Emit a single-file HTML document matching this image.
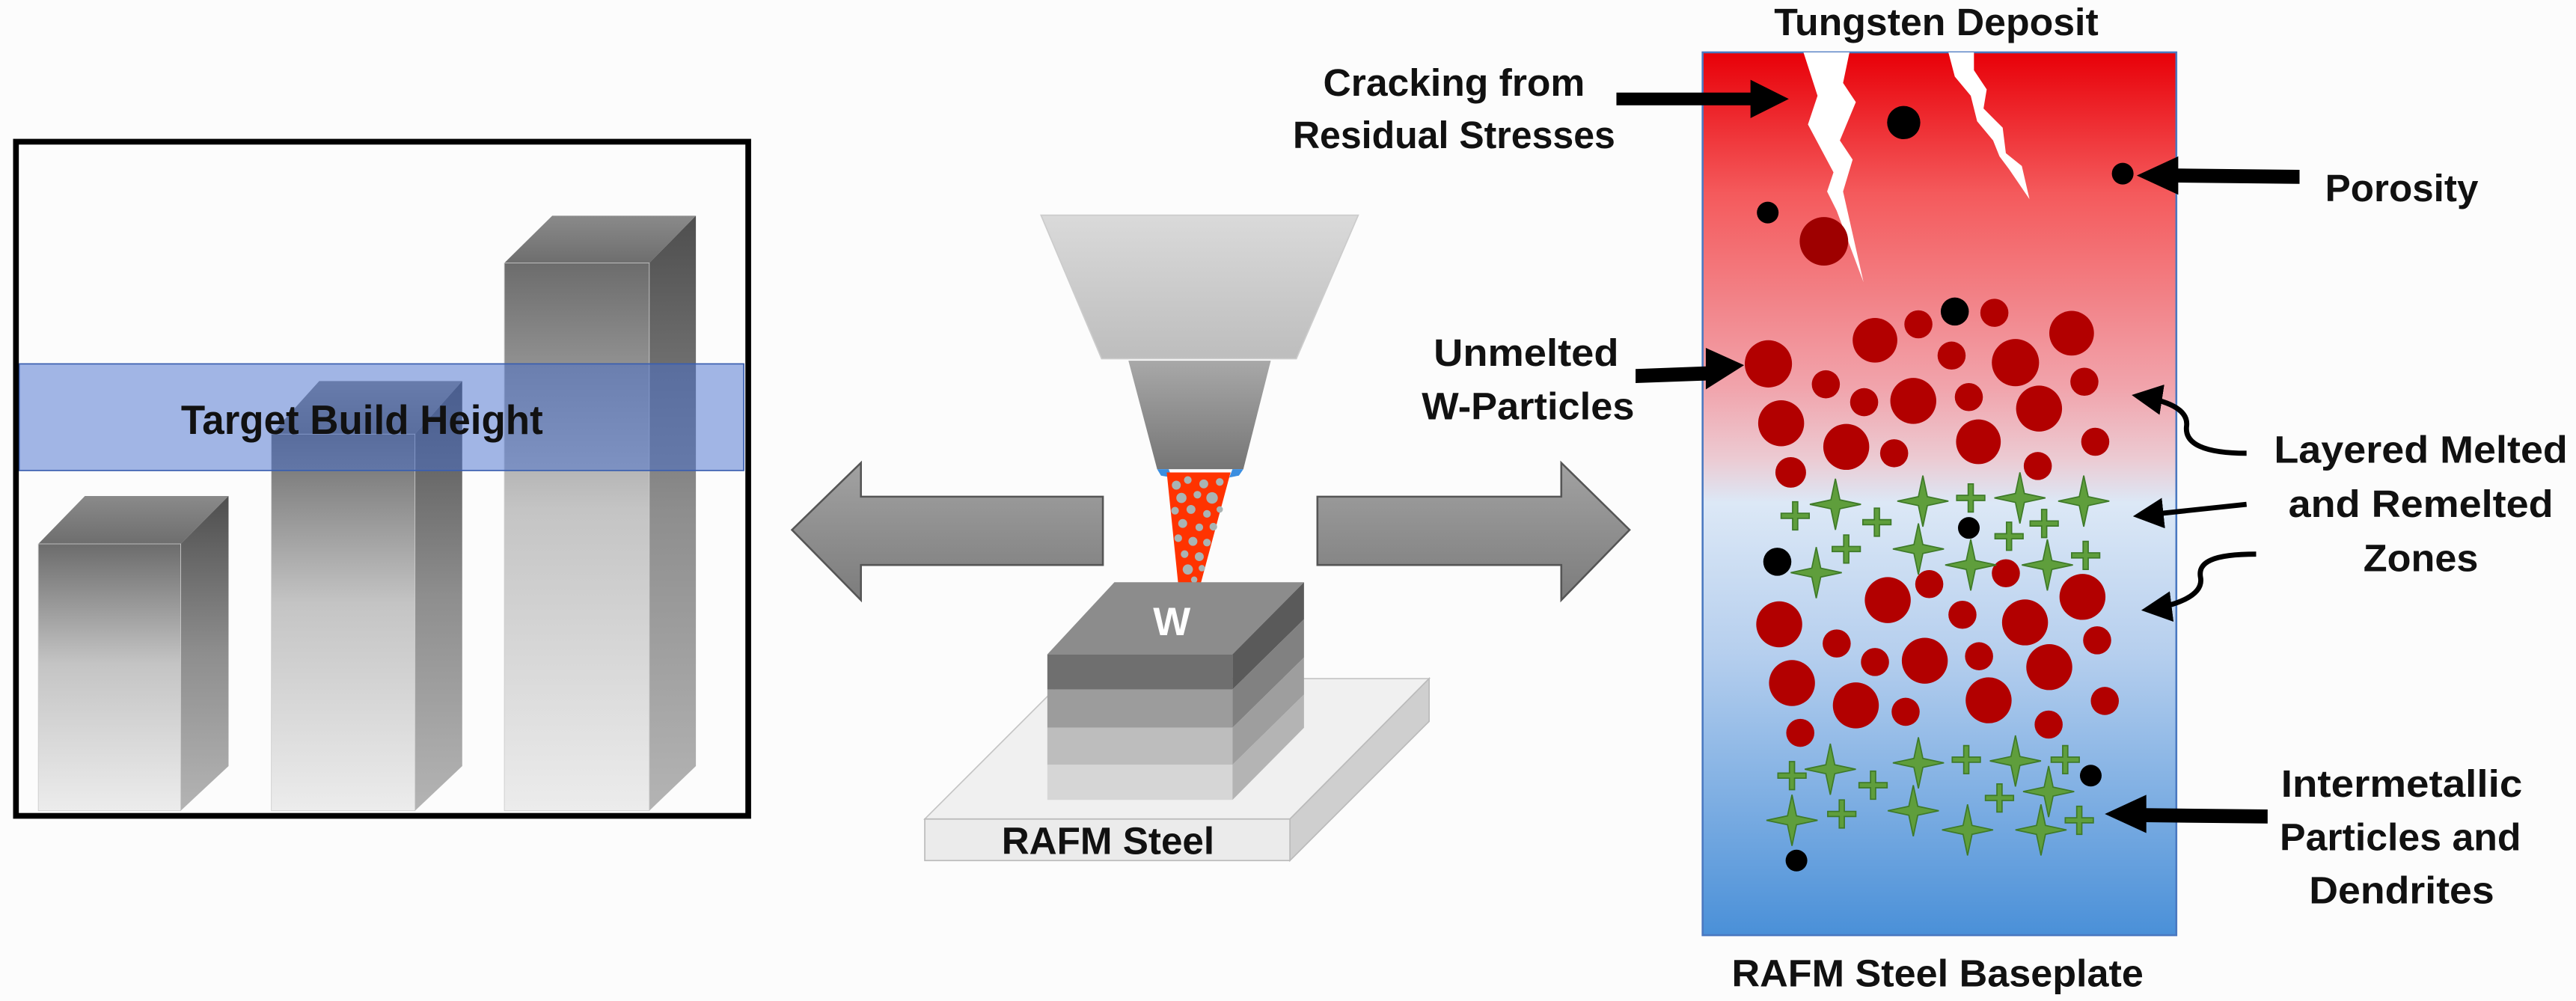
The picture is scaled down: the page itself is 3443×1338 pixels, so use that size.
<!DOCTYPE html>
<html><head><meta charset="utf-8"><style>
html,body{margin:0;padding:0;background:#fcfcfc}
svg{display:block}
text{font-family:"Liberation Sans",sans-serif;font-weight:bold;fill:#111}
</style></head><body>
<svg width="3443" height="1338" viewBox="0 0 3443 1338" xmlns="http://www.w3.org/2000/svg">
<defs>
<linearGradient id="front" x1="0" y1="0" x2="0" y2="1"><stop offset="0" stop-color="#6c6c6c"/><stop offset="0.45" stop-color="#c4c4c4"/><stop offset="1" stop-color="#ececec"/></linearGradient>
<linearGradient id="side" x1="0" y1="0" x2="0" y2="1"><stop offset="0" stop-color="#4e4e4e"/><stop offset="0.5" stop-color="#8e8e8e"/><stop offset="1" stop-color="#b4b4b4"/></linearGradient>
<linearGradient id="topf" x1="0" y1="0" x2="0" y2="1"><stop offset="0" stop-color="#8a8a8a"/><stop offset="1" stop-color="#6e6e6e"/></linearGradient>
<linearGradient id="arr" x1="0" y1="0" x2="0" y2="1"><stop offset="0" stop-color="#a2a2a2"/><stop offset="1" stop-color="#7c7c7c"/></linearGradient>
<linearGradient id="hop" x1="0" y1="0" x2="0" y2="1"><stop offset="0" stop-color="#dadada"/><stop offset="1" stop-color="#bdbdbd"/></linearGradient>
<linearGradient id="noz" x1="0" y1="0" x2="0" y2="1"><stop offset="0" stop-color="#a8a8a8"/><stop offset="1" stop-color="#767676"/></linearGradient>
<linearGradient id="panel" x1="0" y1="0" x2="0" y2="1">
<stop offset="0" stop-color="#e80008"/><stop offset="0.16" stop-color="#f45a5c"/><stop offset="0.38" stop-color="#f1a4ac"/><stop offset="0.46" stop-color="#eccad2"/><stop offset="0.51" stop-color="#dce8f6"/><stop offset="0.68" stop-color="#b6cfee"/><stop offset="1" stop-color="#4a90d8"/></linearGradient>
<marker id="ah" markerWidth="6" markerHeight="6" refX="5" refY="3" orient="auto" markerUnits="strokeWidth"><path d="M0,0 L6,3 L0,6 Z" fill="#000"/></marker>
<g id="st"><path d="M0,-40 L7,-7 L40,0 L7,7 L0,40 L-7,7 L-40,0 L-7,-7 Z" fill="#5f9e3c" stroke="#3e7a28" stroke-width="2"/></g>
<g id="pl"><path d="M-4,-22 H4 V-4 H22 V4 H4 V22 H-4 V4 H-22 V-4 H-4 Z" fill="#5f9e3c" stroke="#3e7a28" stroke-width="2"/></g>
</defs>

<!-- LEFT PANEL (zoom4 coords) -->
<g transform="scale(0.8533)">
<!-- bar1 -->
<polygon points="60,852 283,852 358,777 133,777" fill="url(#topf)"/>
<polygon points="283,852 358,777 358,1200 283,1270" fill="url(#side)"/>
<rect x="60" y="852" width="223" height="418" fill="url(#front)" stroke="#ccc" stroke-width="1"/>
<!-- bar2 -->
<polygon points="425,680 650,680 724,597 500,597" fill="url(#topf)"/>
<polygon points="650,680 724,597 724,1200 650,1270" fill="url(#side)"/>
<rect x="425" y="680" width="225" height="590" fill="url(#front)" stroke="#ccc" stroke-width="1"/>
<!-- bar3 -->
<polygon points="790,412 1017,412 1090,338 865,338" fill="url(#topf)"/>
<polygon points="1017,412 1090,338 1090,1200 1017,1270" fill="url(#side)"/>
<rect x="790" y="412" width="227" height="858" fill="url(#front)" stroke="#ccc" stroke-width="1"/>
<!-- band -->
<rect x="30" y="570" width="1135" height="167" fill="rgba(70,110,205,0.5)" stroke="#3a5fb0" stroke-width="2"/>
<text x="567" y="680" font-size="64" text-anchor="middle" textLength="567" lengthAdjust="spacingAndGlyphs">Target Build Height</text>
<rect x="25" y="222" width="1147" height="1056" fill="none" stroke="#000" stroke-width="9"/>
</g>

<!-- CENTER (zoom6 coords) -->
<g transform="translate(1050,0) scale(0.8533)">
<!-- arrows -->
<polygon points="10,830 118,725 118,778 497,778 497,885 118,885 118,940" fill="url(#arr)" stroke="#555" stroke-width="3"/>
<polygon points="1322,830 1215,725 1215,778 833,778 833,885 1215,885 1215,940" fill="url(#arr)" stroke="#555" stroke-width="3"/>
<!-- hopper -->
<polygon points="400,337 897,337 800,562 495,562" fill="url(#hop)" stroke="#ccc" stroke-width="2"/>
<polygon points="537,565 760,565 717,735 582,735" fill="url(#noz)"/>
<polygon points="582,735 600,735 605,748 588,745" fill="#3b8ee0"/>
<polygon points="700,735 717,735 710,745 695,748" fill="#3b8ee0"/>
<!-- plume -->
<polygon points="597,740 697,740 650,915 615,915" fill="#ff3300"/>
<g fill="#a9b3b3">
<circle cx="612" cy="760" r="7"/><circle cx="630" cy="752" r="6"/><circle cx="655" cy="758" r="7"/><circle cx="680" cy="755" r="6"/><circle cx="620" cy="780" r="8"/><circle cx="645" cy="775" r="6"/><circle cx="668" cy="780" r="9"/><circle cx="610" cy="800" r="6"/><circle cx="635" cy="798" r="7"/><circle cx="660" cy="805" r="6"/><circle cx="680" cy="798" r="5"/><circle cx="622" cy="820" r="7"/><circle cx="648" cy="826" r="6"/><circle cx="670" cy="825" r="6"/><circle cx="615" cy="843" r="6"/><circle cx="638" cy="848" r="7"/><circle cx="660" cy="850" r="6"/><circle cx="625" cy="868" r="6"/><circle cx="648" cy="872" r="7"/><circle cx="630" cy="892" r="8"/><circle cx="652" cy="890" r="5"/><circle cx="640" cy="908" r="5"/>
</g>
<!-- base plate -->
<polygon points="218,1283 790,1283 1008,1063 438,1063" fill="#f0f0f0" stroke="#c4c4c4" stroke-width="2"/>
<polygon points="790,1283 1008,1063 1008,1130 790,1348" fill="#cfcfcf" stroke="#bbb" stroke-width="2"/>
<rect x="218" y="1283" width="572" height="65" fill="#ebebeb" stroke="#bbb" stroke-width="2"/>
<text x="505" y="1338" font-size="60" text-anchor="middle">RAFM Steel</text>
<!-- W block -->
<polygon points="410,1025 700,1025 812,912 515,912" fill="#8c8c8c"/>
<rect x="410" y="1025" width="290" height="55" fill="#6f6f6f"/>
<rect x="410" y="1080" width="290" height="60" fill="#9c9c9c"/>
<rect x="410" y="1140" width="290" height="58" fill="#bdbdbd"/>
<rect x="410" y="1198" width="290" height="55" fill="#d6d6d6"/>
<polygon points="700,1025 812,912 812,970 700,1080" fill="#5a5a5a"/>
<polygon points="700,1080 812,970 812,1030 700,1140" fill="#818181"/>
<polygon points="700,1140 812,1030 812,1088 700,1198" fill="#9e9e9e"/>
<polygon points="700,1198 812,1088 812,1140 700,1253" fill="#b4b4b4"/>
<text x="605" y="995" font-size="62" text-anchor="middle" style="fill:#fff">W</text>
<!-- labels -->
<text x="1047" y="150" font-size="60" text-anchor="middle" textLength="410" lengthAdjust="spacingAndGlyphs">Cracking from</text>
<text x="1047" y="232" font-size="60" text-anchor="middle" textLength="505" lengthAdjust="spacingAndGlyphs">Residual Stresses</text>
<text x="1160" y="573" font-size="60" text-anchor="middle" textLength="290" lengthAdjust="spacingAndGlyphs">Unmelted</text>
<text x="1163" y="657" font-size="60" text-anchor="middle" textLength="333" lengthAdjust="spacingAndGlyphs">W-Particles</text>
</g>

<!-- RIGHT PANEL (zoom5 coords) -->
<g transform="translate(2105,0) scale(0.8533)">
<rect x="200" y="82" width="742" height="1383" fill="url(#panel)" stroke="#4a78c0" stroke-width="3"/>
<polygon points="358,82 430,82 420,130 440,160 415,220 435,250 420,300 452,442 410,330 395,300 405,270 365,195 380,150" fill="#fff"/>
<polygon points="585,82 625,82 625,110 645,140 640,170 670,200 675,240 700,260 712,312 680,265 665,245 655,220 630,190 620,150 595,120" fill="#fff"/>
<g fill="#b20000">
<circle cx="390" cy="378" r="38" fill="#9e0000"/>
<circle cx="303" cy="570" r="37"/><circle cx="470" cy="533" r="35"/><circle cx="538" cy="508" r="22"/><circle cx="590" cy="557" r="22"/><circle cx="657" cy="490" r="22"/><circle cx="778" cy="522" r="35"/><circle cx="690" cy="568" r="37"/><circle cx="798" cy="598" r="22"/><circle cx="393" cy="602" r="22"/><circle cx="453" cy="630" r="22"/><circle cx="530" cy="628" r="36"/><circle cx="617" cy="622" r="22"/><circle cx="727" cy="640" r="36"/><circle cx="323" cy="663" r="36"/><circle cx="425" cy="700" r="36"/><circle cx="500" cy="710" r="22"/><circle cx="632" cy="692" r="35"/><circle cx="815" cy="692" r="22"/><circle cx="338" cy="740" r="24"/><circle cx="725" cy="730" r="22"/>
<circle cx="555" cy="915" r="22"/><circle cx="675" cy="898" r="22"/><circle cx="490" cy="940" r="36"/><circle cx="795" cy="935" r="36"/><circle cx="320" cy="978" r="36"/><circle cx="607" cy="963" r="22"/><circle cx="705" cy="975" r="36"/><circle cx="818" cy="1003" r="22"/><circle cx="410" cy="1008" r="22"/><circle cx="470" cy="1037" r="22"/><circle cx="548" cy="1035" r="36"/><circle cx="633" cy="1028" r="22"/><circle cx="743" cy="1045" r="36"/><circle cx="340" cy="1070" r="36"/><circle cx="440" cy="1105" r="36"/><circle cx="518" cy="1115" r="22"/><circle cx="648" cy="1097" r="36"/><circle cx="830" cy="1098" r="22"/><circle cx="353" cy="1148" r="22"/><circle cx="742" cy="1135" r="22"/>
</g>
<g fill="#000">
<circle cx="515" cy="192" r="26"/><circle cx="858" cy="272" r="17"/><circle cx="302" cy="333" r="17"/><circle cx="595" cy="488" r="22"/><circle cx="617" cy="827" r="17"/><circle cx="317" cy="880" r="22"/><circle cx="808" cy="1215" r="17"/><circle cx="347" cy="1348" r="17"/>
</g>
<use href="#st" x="408" y="790"/><use href="#st" x="545" y="785"/><use href="#st" x="697" y="780"/><use href="#st" x="797" y="785"/><use href="#st" x="538" y="860"/><use href="#st" x="620" y="885"/><use href="#st" x="740" y="885"/><use href="#st" x="378" y="897"/>
<use href="#pl" x="345" y="808"/><use href="#pl" x="473" y="818"/><use href="#pl" x="620" y="780"/><use href="#pl" x="680" y="840"/><use href="#pl" x="735" y="820"/><use href="#pl" x="800" y="870"/><use href="#pl" x="425" y="860"/>
<use href="#st" x="400" y="1205"/><use href="#st" x="538" y="1195"/><use href="#st" x="690" y="1192"/><use href="#st" x="742" y="1240"/><use href="#st" x="530" y="1270"/><use href="#st" x="340" y="1285"/><use href="#st" x="615" y="1300"/><use href="#st" x="730" y="1300"/>
<use href="#pl" x="340" y="1215"/><use href="#pl" x="467" y="1230"/><use href="#pl" x="613" y="1190"/><use href="#pl" x="768" y="1190"/><use href="#pl" x="665" y="1250"/><use href="#pl" x="418" y="1275"/><use href="#pl" x="790" y="1285"/>
<!-- thick arrows -->
<polygon points="65,145 275,145 275,125 335,155 275,185 275,165 65,165" fill="#000"/>
<polygon points="95,578 205,574 205,545 265,572 205,610 205,596 95,600" fill="#000"/>
<polygon points="1135,266 945,264 945,245 880,275 945,305 945,286 1135,288" fill="#000"/>
<polygon points="1085,1268 895,1266 895,1245 830,1275 895,1305 895,1288 1085,1290" fill="#000"/>
<!-- thin arrows -->
<path d="M1052,710 C985,710 955,695 958,668 C962,640 925,627 880,620" fill="none" stroke="#000" stroke-width="8" marker-end="url(#ah)"/>
<path d="M1052,790 L882,808" fill="none" stroke="#000" stroke-width="8" marker-end="url(#ah)"/>
<path d="M1067,868 C1000,868 975,880 980,905 C985,935 935,950 895,955" fill="none" stroke="#000" stroke-width="8" marker-end="url(#ah)"/>
<!-- labels -->
<text x="566" y="55" font-size="60" text-anchor="middle" textLength="508" lengthAdjust="spacingAndGlyphs">Tungsten Deposit</text>
<text x="1295" y="315" font-size="60" text-anchor="middle" textLength="240" lengthAdjust="spacingAndGlyphs">Porosity</text>
<text x="1325" y="725" font-size="60" text-anchor="middle" textLength="460" lengthAdjust="spacingAndGlyphs">Layered Melted</text>
<text x="1325" y="810" font-size="60" text-anchor="middle" textLength="415" lengthAdjust="spacingAndGlyphs">and Remelted</text>
<text x="1325" y="895" font-size="60" text-anchor="middle" textLength="180" lengthAdjust="spacingAndGlyphs">Zones</text>
<text x="1295" y="1248" font-size="60" text-anchor="middle" textLength="378" lengthAdjust="spacingAndGlyphs">Intermetallic</text>
<text x="1293" y="1332" font-size="60" text-anchor="middle" textLength="378" lengthAdjust="spacingAndGlyphs">Particles and</text>
<text x="1295" y="1415" font-size="60" text-anchor="middle" textLength="290" lengthAdjust="spacingAndGlyphs">Dendrites</text>
<text x="568" y="1545" font-size="60" text-anchor="middle" textLength="645" lengthAdjust="spacingAndGlyphs">RAFM Steel Baseplate</text>
</g>
</svg>
</body></html>
